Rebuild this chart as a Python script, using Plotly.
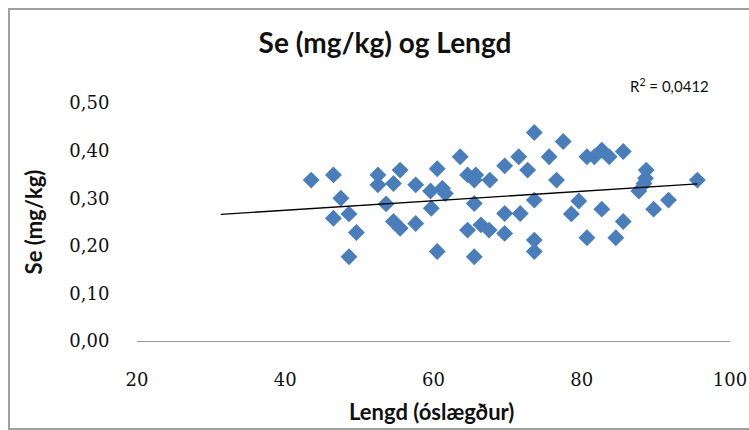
import plotly.graph_objects as go

# Data
lengd = [43.5, 46.5, 47.5, 46.5, 48.6, 49.6, 48.6, 52.5, 52.5, 54.6,
         55.5, 53.6, 54.6, 55.5, 57.6, 57.6, 59.6, 59.7, 60.5, 60.5,
         61.2, 61.6, 63.6, 64.6, 65.7, 65.5, 67.6, 65.5, 64.6, 66.4,
         67.5, 65.5, 69.6, 69.6, 69.6, 71.5, 72.7, 71.7, 73.6, 73.6,
         73.6, 73.6, 75.6, 76.6, 77.5, 79.6, 78.6, 80.7, 81.7, 82.7,
         83.7, 85.6, 82.7, 80.7, 85.6, 84.6, 88.7, 88.6, 87.7, 88.4,
         89.7, 91.7, 95.6]
se = [0.338, 0.349, 0.300, 0.258, 0.267, 0.228, 0.177, 0.349, 0.328, 0.331,
      0.359, 0.288, 0.251, 0.237, 0.328, 0.247, 0.315, 0.279, 0.362, 0.188,
      0.321, 0.310, 0.387, 0.349, 0.349, 0.338, 0.338, 0.289, 0.233, 0.244,
      0.233, 0.177, 0.368, 0.268, 0.226, 0.387, 0.359, 0.268, 0.438, 0.296,
      0.212, 0.188, 0.387, 0.338, 0.419, 0.294, 0.267, 0.387, 0.387, 0.401,
      0.387, 0.398, 0.277, 0.217, 0.251, 0.217, 0.359, 0.342, 0.315, 0.331,
      0.277, 0.296, 0.338]

trend_x = [31.3, 95.6]
trend_y = [0.266, 0.330]

x_ticks = [20, 40, 60, 80, 100]
y_ticks = [0.0, 0.1, 0.2, 0.3, 0.4, 0.5]
y_tick_labels = ["0,00", "0,10", "0,20", "0,30", "0,40", "0,50"]

title_text = "<b>Se (mg/kg) og Lengd</b>"
r2_text = "R<sup>2</sup> = 0,0412"
x_title = "<b>Lengd (óslægður)</b>"
y_title = "<b>Se (mg/kg)</b>"

fig = go.Figure()
fig.add_trace(go.Scatter(
    x=lengd, y=se, mode="markers",
    marker=dict(symbol="diamond", size=13, color="#4A7EBB", line=dict(width=0)),
    showlegend=False, hoverinfo="x+y"))
fig.add_trace(go.Scatter(
    x=trend_x, y=trend_y, mode="lines",
    line=dict(color="black", width=1.3), showlegend=False, hoverinfo="skip"))

tick_font = dict(family="DejaVu Serif, Liberation Serif, serif", size=18, color="#111111")
label_font = dict(family="Lato, Open Sans, sans-serif", size=22, color="#111111")

W, H = 749, 430
L, R, T, B = 137, 19, 103, 89
PW, PH = W - L - R, H - T - B

fig.update_layout(
    width=W, height=H,
    margin=dict(l=L, r=R, t=T, b=B),
    paper_bgcolor="white", plot_bgcolor="white",
    title=dict(text=title_text, x=385 / W, xanchor="center",
               y=1 - 43 / H, yanchor="middle", yref="container", xref="container",
               font=dict(family="Lato, Open Sans, sans-serif", size=28, color="#111111")),
    xaxis=dict(range=[20, 100], tickvals=x_ticks, ticktext=[str(v) for v in x_ticks],
               showgrid=False, zeroline=False, showline=True, linecolor="#9a9a9a",
               linewidth=1, ticks="outside", ticklen=22, tickcolor="rgba(0,0,0,0)",
               tickfont=tick_font, fixedrange=True, automargin=False),
    yaxis=dict(range=[0, 0.5], tickvals=y_ticks, ticktext=y_tick_labels,
               showgrid=False, zeroline=False, showline=False,
               ticks="outside", ticklen=23, tickcolor="rgba(0,0,0,0)",
               tickfont=tick_font, fixedrange=True, automargin=False,
               title=dict(text=y_title, font=label_font, standoff=20)),
    annotations=[
        dict(text=r2_text, x=(669 - L) / PW, y=(H - B - 85) / PH, xref="paper", yref="paper",
             showarrow=False, xanchor="center", yanchor="middle",
             font=dict(family="Lato, Open Sans, sans-serif", size=15, color="#111111")),
        dict(text=x_title, x=(431 - L) / PW, y=(H - B - 411) / PH, xref="paper", yref="paper",
             showarrow=False, xanchor="center", yanchor="middle", font=label_font),
    ],
    shapes=[dict(type="rect", xref="paper", yref="paper",
                 x0=(9 - L) / PW, x1=(W + 5 - L) / PW,
                 y0=(H - B - 429) / PH, y1=(H - B - 9) / PH,
                 line=dict(color="#a0a0a0", width=2), layer="below")],
)

fig.write_html("out.html", config={"displayModeBar": False},
               post_script="document.body.style.margin='0';document.body.style.overflow='hidden';")
